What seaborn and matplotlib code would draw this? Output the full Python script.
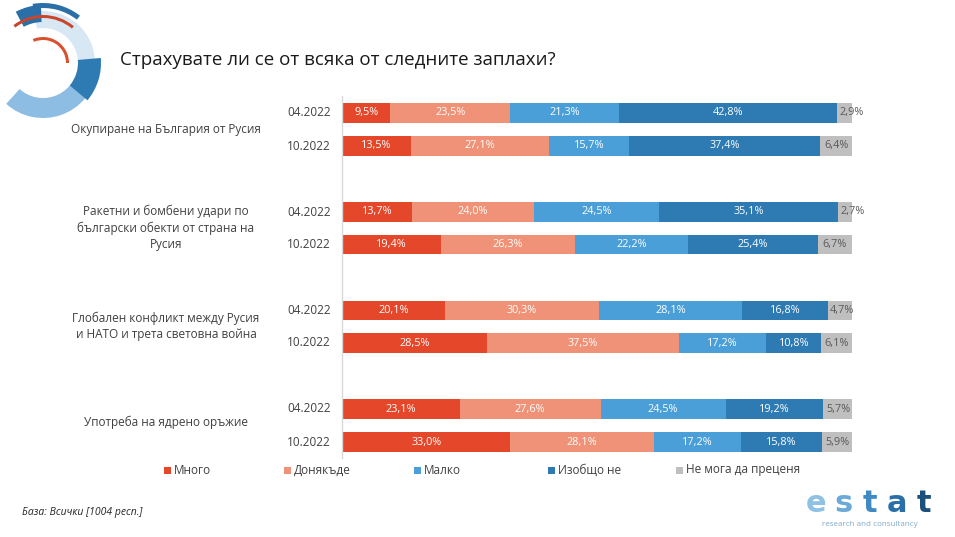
import numpy as np
import pandas as pd
import matplotlib
matplotlib.use("Agg")
import matplotlib.pyplot as plt
from matplotlib.patches import Wedge, Rectangle
import seaborn as sns

# ---- data ----
threats = [
    "Окупиране на България от Русия",
    "Ракетни и бомбени удари по\nбългарски обекти от страна на\nРусия",
    "Глобален конфликт между Русия\nи НАТО и трета световна война",
    "Употреба на ядрено оръжие",
]
periods = ["04.2022", "10.2022"]
answers = ["Много", "Донякъде", "Малко", "Изобщо не", "Не мога да преценя"]
colors = ["#E4472A", "#EF9277", "#4A9FD8", "#2E7BB4", "#BFBFBF"]

mnogo     = [9.5, 13.5, 13.7, 19.4, 20.1, 28.5, 23.1, 33.0]
donyakade = [23.5, 27.1, 24.0, 26.3, 30.3, 37.5, 27.6, 28.1]
malko     = [21.3, 15.7, 24.5, 22.2, 28.1, 17.2, 24.5, 17.2]
izobshto  = [42.8, 37.4, 35.1, 25.4, 16.8, 10.8, 19.2, 15.8]
ne_moga   = [2.9, 6.4, 2.7, 6.7, 4.7, 6.1, 5.7, 5.9]

rows = [f"{t}|{p}" for t in range(len(threats)) for p in periods]
order = []
for i in range(len(threats)):
    order += [f"{i}|{p}" for p in periods]
    if i < len(threats) - 1:
        order.append(f"gap{i}")

df = pd.DataFrame({"row": rows, answers[0]: mnogo, answers[1]: donyakade,
                   answers[2]: malko, answers[3]: izobshto, answers[4]: ne_moga})
cum = df[answers].cumsum(axis=1)
cum["row"] = df["row"]

sns.set_theme(style="white")
plt.rcParams["font.family"] = ["Open Sans", "DejaVu Sans"]

fig = plt.figure(figsize=(9.55, 5.37), dpi=100)
W, H = 955, 537

# main bar axes (pixel placement)
ax = fig.add_axes([342 / W, 1 - 458.5 / H, 510 / W, 362 / H])
# stacked bars: draw cumulative totals from the widest down
for k in range(len(answers) - 1, -1, -1):
    sns.barplot(data=cum, x=answers[k], y="row", order=order,
                color=colors[k], width=0.6, orient="h", ax=ax, saturation=1,
                linewidth=0)
ax.set_xlim(0, 100)
ax.set_xlabel("")
ax.set_ylabel("")
ax.set_xticks([])
ax.set_yticks([])
for s in ["top", "right", "bottom"]:
    ax.spines[s].set_visible(False)
ax.spines["left"].set_color("#D9D9D9")
ax.spines["left"].set_linewidth(1)

# value labels
for r, row in enumerate(rows):
    y = order.index(row)
    left = 0
    for k, a in enumerate(answers):
        v = df.loc[r, a]
        xc = left + v / 2
        if k == 4:
            xc = max(xc, left + 2.8)
        ax.text(xc, y, f"{v:.1f}%".replace(".", ","), ha="center", va="center",
                fontsize=7.8, color="#595959" if k == 4 else "white")
        left += v

# overlay axes in pixel coordinates for texts and decoration
ov = fig.add_axes([0, 0, 1, 1])
ov.set_xlim(0, W)
ov.set_ylim(H, 0)
ov.axis("off")

ov.text(120, 60, "Страхувате ли се от всяка от следните заплахи?", fontsize=13.5,
        color="#1a1a1a", va="center", ha="left")

row_px = [113, 146, 212, 245, 310, 343, 409, 442]
for r, row in enumerate(rows):
    ov.text(331, row_px[r], periods[r % 2], ha="right", va="center",
            fontsize=8.5, color="#404040")
group_px = [129, 228, 326, 422]
for i, t in enumerate(threats):
    ov.text(166, group_px[i], t, ha="center", va="center", fontsize=8.5,
            color="#404040", linespacing=1.3)

# legend
leg_x = [168, 288, 418, 552, 680]
for k, a in enumerate(answers):
    ov.add_patch(Rectangle((leg_x[k] - 4, 466.5), 7, 7, color=colors[k], lw=0))
    ov.text(leg_x[k] + 6, 470, a, ha="left", va="center", fontsize=8.5,
            color="#404040")

ov.text(22, 513, "База: Всички [1004 респ.]", ha="left", va="center",
        fontsize=7.5, style="italic", color="#262626")

# decorative arcs top-left (visual angles, y axis inverted)
cx, cy = 43, 63
deco = [
    (52, -5, 100, 17, "#D8E7F4"),
    (55, 228, 350, 20, "#8DBDE2"),
    (58, -40, 5, 23, "#2E7BB4"),
    (60, 52, 100, 5, "#2A6FA8"),
    (58, 92, 118, 17, "#2A6FA8"),
    (48, 50, 128, 3, "#C8452B"),
    (26, 0, 113, 3, "#D9502F"),
]
for r, t1, t2, w, c in deco:
    ov.add_patch(Wedge((cx, cy), r, -t2, -t1, width=w, color=c, lw=0))

# logo bottom right
logo_cols = ["#8EC1E3", "#6AA9D8", "#3F8AC4", "#2A6FA8", "#1B4F7C"]
for i, ch in enumerate("estat"):
    ov.text(816 + i * 27, 504, ch, ha="center", va="center", fontsize=22,
            fontweight="bold", color=logo_cols[i], family="DejaVu Sans")
ov.text(870, 524, "research and consultancy", ha="center", va="center",
        fontsize=5.8, color="#7FAACB")

fig.savefig("out.png", dpi=100)
